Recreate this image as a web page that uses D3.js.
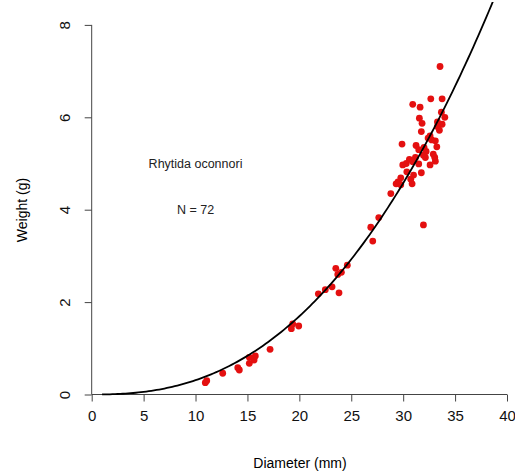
<!doctype html>
<html>
<head>
<meta charset="utf-8">
<style>
  body { margin: 0; background: #fff; }
  svg { font-family: "Liberation Sans", Arial, sans-serif; }
  .axis path, .axis line { stroke: #444; }
  .axis text { fill: #111; }
</style>
</head>
<body>
<svg width="515" height="474"></svg>
<script src="https://d3js.org/d3.v7.min.js"></script>
<script>
  // shell diameter (mm) and weight (g)
  var diameter = [
    10.94, 11.08, 12.62, 14.07, 14.22, 15.18, 15.18, 15.64, 15.76, 17.18,
    19.36, 19.23, 19.94, 21.83, 22.5, 23.15, 23.82, 23.51, 23.7, 24.05,
    24.62, 27.07, 26.88, 27.65,
    33.55, 30.92, 31.63, 32.66, 33.75, 31.56, 31.82, 33.68, 34.01, 33.75,
    33.29, 33.49, 31.75, 32.59, 32.75, 33.1, 33.24, 29.89, 31.24, 32.01,
    32.21, 32.14, 31.95, 33.04, 33.1, 31.18, 30.6, 30.92, 31.5, 32.59,
    29.96, 30.35, 31.75, 29.77, 30.73, 29.54, 29.32, 30.86, 29.77, 28.81,
    31.95, 32.4, 31.5, 30.3, 33.3, 31.0, 32.9, 29.5
  ];
  var weight = [
    0.255, 0.30, 0.46, 0.58, 0.53, 0.805, 0.675, 0.747, 0.833, 0.978,
    1.526, 1.424, 1.483, 2.18, 2.27, 2.33, 2.20, 2.73, 2.60, 2.645,
    2.80, 3.32, 3.62, 3.83,
    7.10, 6.28, 6.22, 6.40, 6.40, 5.98, 5.87, 6.11, 6.00, 5.85,
    5.80, 5.72, 5.69, 5.60, 5.51, 5.49, 5.36, 5.42, 5.39, 5.35,
    5.26, 5.13, 5.18, 5.13, 5.05, 5.13, 5.09, 5.04, 4.99, 4.97,
    4.97, 4.82, 4.80, 4.69, 4.66, 4.58, 4.56, 4.56, 4.54, 4.35,
    3.67, 5.55, 5.30, 5.00, 5.90, 4.75, 5.20, 4.60
  ];

  // fitted power curve W = a * D^b
  var fitA = 0.0011, fitB = 2.45;
  var curveD = d3.range(1, 38.8, 0.25);

  var xTicks = [0, 5, 10, 15, 20, 25, 30, 35, 40];
  var yTicks = [0, 2, 4, 6, 8];

  var svg = d3.select("svg");

  var x = d3.scaleLinear().domain([0, 40]).range([91.7, 507]);
  var y = d3.scaleLinear().domain([0, 8]).range([394.5, 24.9]);

  svg.append("clipPath").attr("id", "plot")
    .append("rect").attr("x", 91).attr("y", 2).attr("width", 420).attr("height", 400);

  svg.append("g")
    .attr("class", "axis")
    .attr("transform", "translate(0,394.5)")
    .call(d3.axisBottom(x).tickValues(xTicks).tickSize(7).tickPadding(9).tickSizeOuter(0))
    .call(g => g.select(".domain").attr("d", "M" + x(0) + ",0H" + x(40)))
    .selectAll("text").attr("font-size", 15).attr("font-family", "Liberation Sans, Arial, sans-serif");

  var yAxis = svg.append("g")
    .attr("class", "axis")
    .attr("transform", "translate(91.7,0)")
    .call(d3.axisLeft(y).tickValues(yTicks).tickSize(7).tickPadding(6).tickSizeOuter(0))
    .call(g => g.select(".domain").attr("d", "M0," + y(0) + "V" + y(8)));

  yAxis.selectAll(".tick text")
    .attr("font-size", 15)
    .attr("font-family", "Liberation Sans, Arial, sans-serif")
    .attr("text-anchor", "middle")
    .attr("x", -27)
    .attr("dy", 0)
    .attr("transform", "rotate(-90,-27,0) translate(0,5.5)");

  svg.append("text")
    .attr("x", 300).attr("y", 468)
    .attr("text-anchor", "middle")
    .attr("font-size", 14)
    .text("Diameter (mm)");

  svg.append("text")
    .attr("transform", "translate(27,210) rotate(-90)")
    .attr("text-anchor", "middle")
    .attr("font-size", 14)
    .text("Weight (g)");

  svg.append("g")
    .selectAll("circle")
    .data(diameter)
    .enter().append("circle")
    .attr("cx", (d) => x(d))
    .attr("cy", (d, i) => y(weight[i]))
    .attr("r", 3.4)
    .attr("fill", "#e41010");

  var line = d3.line()
    .x((d) => x(d))
    .y((d) => y(fitA * Math.pow(d, fitB)));

  svg.append("path")
    .datum(curveD)
    .attr("clip-path", "url(#plot)")
    .attr("d", line)
    .attr("fill", "none")
    .attr("stroke", "#000")
    .attr("stroke-width", 1.8);

  svg.append("text")
    .attr("x", x(10)).attr("y", y(5) + 4)
    .attr("text-anchor", "middle")
    .attr("font-size", 12.5)
    .attr("fill", "#222")
    .text("Rhytida oconnori");

  svg.append("text")
    .attr("x", x(10)).attr("y", y(4) + 4)
    .attr("text-anchor", "middle")
    .attr("font-size", 12.5)
    .attr("fill", "#222")
    .text("N = 72");
</script>
</body>
</html>
